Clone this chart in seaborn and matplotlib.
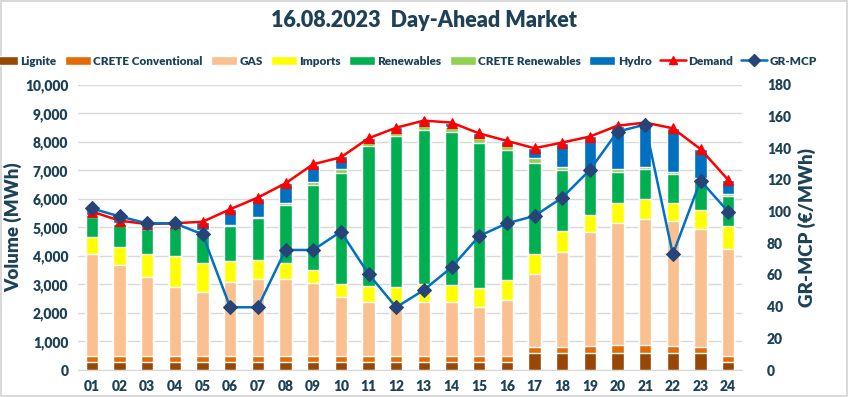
import numpy as np
import pandas as pd
import matplotlib
matplotlib.use("Agg")
import matplotlib.pyplot as plt
from matplotlib.patches import Patch
from matplotlib.lines import Line2D
import seaborn as sns

# Hourly data (MWh)
hours = ["%02d" % h for h in range(1, 25)]
lignite = [280, 280, 280, 280, 280, 280, 280, 280, 280, 280, 280, 280,
           280, 280, 280, 280, 610, 610, 610, 610, 610, 610, 610, 280]
crete_conv = [220, 220, 220, 220, 220, 220, 220, 220, 220, 220, 220, 220,
              220, 220, 220, 220, 210, 210, 230, 270, 270, 230, 210, 220]
gas = [3560, 3180, 2770, 2400, 2250, 2600, 2680, 2680, 2540, 2050, 1900, 1780,
       1870, 1870, 1720, 1960, 2550, 3330, 3990, 4290, 4420, 4400, 4130, 3730]
imports = [620, 650, 800, 1100, 990, 740, 680, 590, 470, 470, 560, 640,
           640, 610, 650, 700, 700, 720, 610, 680, 690, 630, 660, 820]
renewables = [700, 790, 870, 1000, 1110, 1210, 1460, 2020, 2980, 3900, 4900, 5290,
              5410, 5380, 5110, 4560, 3200, 2150, 1520, 1110, 1050, 1000, 1060, 1060]
crete_ren = [60, 50, 40, 50, 60, 40, 60, 80, 120, 130, 140, 130,
             180, 150, 170, 140, 160, 110, 80, 90, 70, 80, 60, 70]
hydro = [170, 210, 170, 120, 290, 550, 640, 680, 580, 460, 130, 170,
         150, 170, 180, 180, 350, 820, 1170, 1510, 1540, 1530, 1020, 490]
demand = [5560, 5240, 5120, 5150, 5200, 5640, 6050, 6550, 7220, 7460, 8130, 8500,
          8750, 8680, 8300, 8040, 7780, 7980, 8190, 8570, 8680, 8480, 7750, 6670]
mcp = [102, 97, 92.6, 92.6, 85.7, 39.6, 39.6, 75.8, 75.8, 87.4, 60.6, 39.6,
       50.5, 64.8, 84.6, 92.6, 97.3, 108.8, 126.3, 150.5, 155, 73, 119.6, 100]

series = [
    ("Lignite", lignite, "#974806"),
    ("CRETE Conventional", crete_conv, "#E36C09"),
    ("GAS", gas, "#FAC090"),
    ("Imports", imports, "#FFFF00"),
    ("Renewables", renewables, "#00B050"),
    ("CRETE Renewables", crete_ren, "#92D050"),
    ("Hydro", hydro, "#0070C0"),
]

txt = "#1D4257"
wt = "heavy"

sns.set_style("white")
plt.rcParams["font.family"] = ["Lato", "DejaVu Sans"]

fig = plt.figure(figsize=(8.48, 3.97), dpi=100)
fig.patch.set_edgecolor("#D9D9D9")
fig.patch.set_linewidth(1.5)
ax = fig.add_axes([0.092, 0.068, 0.783, 0.718])

# stacked bars: draw cumulative totals from the top down
tops = np.cumsum([s[1] for s in series], axis=0)
for (name, vals, col), top in reversed(list(zip(series, tops))):
    df = pd.DataFrame({"hour": hours, "value": top})
    sns.barplot(data=df, x="hour", y="value", color=col, width=0.45,
                saturation=1, ax=ax, zorder=2)

pos = np.arange(24)
sns.lineplot(x=pos, y=demand, ax=ax, color="#FF0000", lw=1.8, marker="^",
             markersize=7, markeredgecolor="#FF0000", zorder=4)

ax.set_ylim(0, 10000)
ax.set_xlim(-0.5, 23.5)
ax.set_yticks(range(0, 10001, 1000))
ax.set_yticklabels(["{:,}".format(v) for v in range(0, 10001, 1000)])
ax.yaxis.grid(True, color="#D9D9D9", lw=1, zorder=0)
ax.set_axisbelow(True)
for s in ["top", "left", "right"]:
    ax.spines[s].set_visible(False)
ax.spines["bottom"].set_color("#D9D9D9")
ax.tick_params(axis="both", length=0, labelsize=10, labelcolor=txt, pad=7)
for lab in ax.get_xticklabels() + ax.get_yticklabels():
    lab.set_fontweight(wt)
ax.set_xlabel("")
ax.set_ylabel("Volume (MWh)", fontsize=13.5, fontweight=wt, color=txt, labelpad=2)

ax2 = ax.twinx()
sns.lineplot(x=pos, y=mcp, ax=ax2, color="#0070C0", lw=1.8, marker="D",
             markersize=7.5, markerfacecolor="#264478", markeredgecolor="#264478")
ax2.set_ylim(0, 180)
ax2.set_yticks(range(0, 181, 20))
for s in ["top", "left", "right", "bottom"]:
    ax2.spines[s].set_visible(False)
ax2.tick_params(axis="y", length=0, labelsize=10, labelcolor=txt, pad=18)
for lab in ax2.get_yticklabels():
    lab.set_fontweight(wt)
ax2.set_ylabel("GR-MCP (€/MWh)", fontsize=13.5, fontweight=wt, color=txt, labelpad=5)

fig.text(0.5, 0.948, "16.08.2023  Day-Ahead Market", ha="center", va="center",
         fontsize=15.5, fontweight=wt, color=txt)

handles = [Patch(facecolor=c, label=n) for n, _, c in series]
handles.append(Line2D([], [], color="#FF0000", lw=1.8, marker="^", markersize=6, label="Demand"))
handles.append(Line2D([], [], color="#0070C0", lw=1.8, marker="D", markersize=6,
                      markerfacecolor="#264478", markeredgecolor="#264478", label="GR-MCP"))
leg = fig.legend(handles=handles, loc="center", bbox_to_anchor=(0.477, 0.846), ncol=9,
                 frameon=False, fontsize=8.5, handlelength=2.2, handleheight=0.8,
                 handletextpad=0.2, columnspacing=0.7)
for t in leg.get_texts():
    t.set_color(txt)
    t.set_fontweight(wt)

fig.savefig("out.png", dpi=100)
